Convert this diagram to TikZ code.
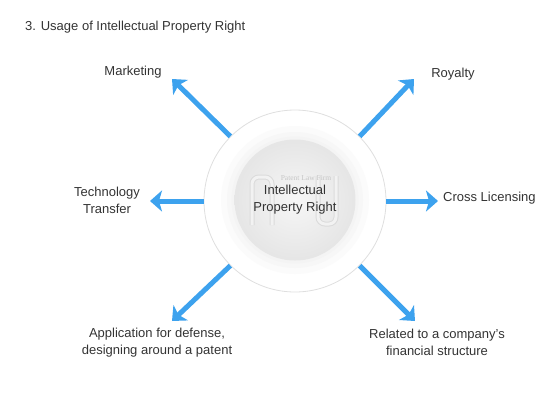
\documentclass[tikz,border=0pt]{standalone}
\usepackage{fontspec}
\setmainfont{Liberation Sans}
\newfontfamily\wmfont{Liberation Serif}
\usetikzlibrary{arrows.meta}
\definecolor{arrowblue}{HTML}{3DA2EE}
\definecolor{txt}{HTML}{333333}
\begin{document}
\begin{tikzpicture}[x=1pt,y=-1pt,
  lbl/.style={text=txt, font=\fontsize{13}{17}\selectfont, align=center, inner sep=0pt},
  arr/.style={draw=arrowblue, line width=5pt, -{Stealth[length=12pt,width=21pt,inset=3pt]}},
  wm/.style={draw=gray!28, line width=1pt, double=gray!10, double distance=3pt, rounded corners=7pt}]
\useasboundingbox (0,0) rectangle (557,400);
% title
\node[lbl, anchor=west] (title) at (25,27) {3. Usage of Intellectual Property Right};
% central circles
\node[circle, minimum size=182pt, draw=gray!25, line width=0.8pt, fill=white] (outer) at (295,201) {};
\fill[gray!3] (295,200) circle[radius=74pt];
\fill[gray!6] (295,200) circle[radius=68pt];
\fill[gray!9] (295,200) circle[radius=63.5pt];
\node[circle, minimum size=121pt, inner sep=0pt, shading=radial, inner color=white!93!gray, outer color=white!80!gray] (inner) at (295,200) {};
% watermark
\draw[wm] (252,225) -- (252,177) -- (272,177) -- (272,225);
\draw[wm] (318,176) -- (318,224) -- (336,224) -- (336,176);
\node[text=gray!45, font=\wmfont\fontsize{7.5}{9}\selectfont, inner sep=0pt] (wmtext) at (306,178) {Patent Law Firm};
% centre text
\node[lbl] (ipr) at (295,200) {Intellectual\\Property Right};
% tips
\coordinate (tNE) at (414,79);
\coordinate (tE) at (438,201);
\coordinate (tSE) at (415,321);
\coordinate (tSW) at (172,321);
\coordinate (tW) at (150,201);
\coordinate (tNW) at (172,79);
\draw[arr] (outer.45) -- (tNE);
\draw[arr] (outer.0) -- (tE);
\draw[arr] (outer.-45) -- (tSE);
\draw[arr] (outer.-135) -- (tSW);
\draw[arr] (outer.180) -- (tW);
\draw[arr] (outer.135) -- (tNW);
% labels
\node[lbl] (mkt) at (133,72) {Marketing};
\node[lbl] (roy) at (453,74) {Royalty};
\node[lbl, anchor=west] (cross) at (443,198) {Cross Licensing};
\node[lbl] (tech) at (107,200) {Technology\\Transfer};
\node[lbl] (app) at (157,343) {Application for defense,\\designing around a patent};
\node[lbl] (rel) at (437,342) {Related to a company's\\financial structure};
\end{tikzpicture}
\end{document}
